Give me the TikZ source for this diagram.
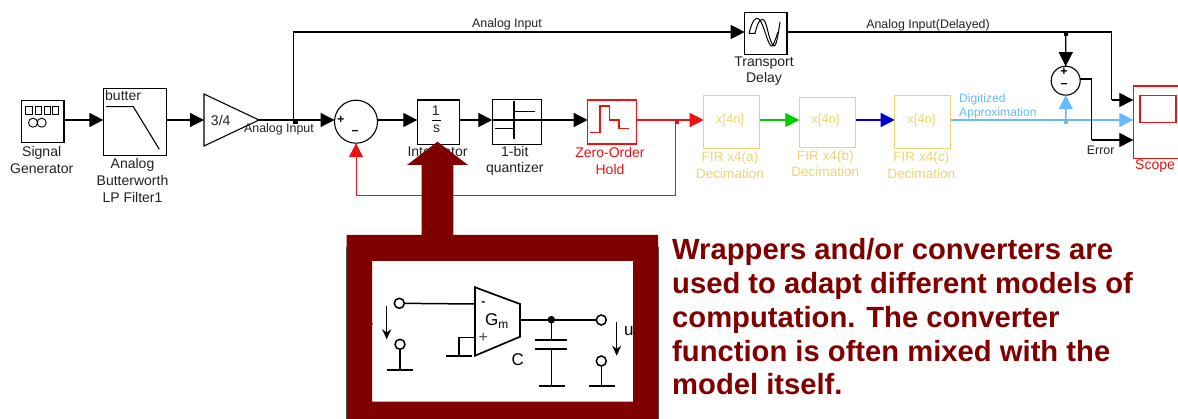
\documentclass[tikz,border=0pt]{standalone}
\usepackage{fontspec}
\setmainfont{Liberation Sans}
\usetikzlibrary{arrows.meta,shapes.geometric}
\definecolor{cred}{HTML}{EE1111}
\definecolor{cyel}{HTML}{EDD574}
\definecolor{cgreen}{HTML}{00CC00}
\definecolor{cblue}{HTML}{0000CC}
\definecolor{clblue}{HTML}{66BBFF}
\definecolor{cdark}{HTML}{800000}
\definecolor{ctxt}{HTML}{222222}
\tikzset{
 x=1pt,y=-1pt,
 blk/.style={draw=#1,line width=1.1pt,fill=white,inner sep=0pt,outer sep=0pt,rectangle},
 blk/.default=black,
 lbl/.style={inner sep=0pt,align=center,text=#1,font=\fontsize{12.4}{16.6}\selectfont},
 lbl/.default=ctxt,
 blbl/.style={inner sep=0pt,align=center,text=#1,font=\fontsize{14}{16.6}\selectfont},
 blbl/.default=ctxt,
 wire/.style={draw=#1,line width=1.3pt,-{Triangle[length=14pt,width=14pt,fill=#1]}},
 wire/.default=black,
 plain/.style={draw=#1,line width=1.3pt},
 plain/.default=black,
 sumc/.style={draw,circle,line width=1.1pt,fill=white,inner sep=0pt,outer sep=0pt},
 ckt/.style={line width=1.5pt,draw=black},
 term/.style={draw=black,circle,line width=1.5pt,fill=white,inner sep=0pt,outer sep=0pt,minimum size=10pt},
 sgn/.style={inner sep=0pt,font=\bfseries\fontsize{12.5}{12}\selectfont},
}
\begin{document}
\begin{tikzpicture}
\useasboundingbox (0,0) rectangle (1178,419);
\fill[white] (0,0) rectangle (1178,419);
% blocks
\node[blk,minimum width=42.3pt,minimum height=42pt] (sg) at (42.8,121.7) {};
\foreach \a/\b in {25.7/32,35/41,44/50.7,52.7/58.7}
  \draw[line width=.9pt] (\a,106.7) rectangle (\b,114.3);
\draw[line width=.9pt] (33,122.7) circle (4.5) (41.7,122.7) circle (4.5);
\node[blk,minimum width=62.7pt,minimum height=66.6pt] (flt) at (134.7,122) {};
\node[inner sep=0pt,anchor=west,font=\fontsize{14}{14}\selectfont,text=ctxt] (butter) at (105,95.7) {butter};
\draw[line width=1.1pt] (106,106.7) -- (133.3,106.7) -- (159.3,149.3);
\node[draw,line width=1.1pt,isosceles triangle,isosceles triangle stretches,minimum width=52pt,minimum height=55pt,inner sep=0pt,outer sep=0pt,anchor=apex] (gain) at (259,120) {};
\node[inner sep=0pt,font=\fontsize{14}{14}\selectfont,text=ctxt] (gaintxt) at (220.7,120.5) {3/4};
\node[sumc,minimum size=43pt] (sum1) at (356,121.7) {};
\node[sgn] (p1) at (340.7,120) {+};
\node[sgn] (m1) at (355,133) {–};
\node[blk,minimum width=42pt,minimum height=44.3pt] (int) at (438.3,122.2) {};
\node[inner sep=0pt,font=\fontsize{14}{14}\selectfont,text=ctxt] (one) at (435.7,110.7) {1};
\draw[line width=.8pt] (431.7,120) -- (440.7,120);
\node[inner sep=0pt,font=\fontsize{14}{14}\selectfont,text=ctxt] (ess) at (436.7,129) {s};
\node[blk,minimum width=49pt,minimum height=45pt] (qnt) at (516.8,121.8) {};
\draw[line width=1.1pt] (514,100.7) -- (514,139.3) (493,120) -- (541,120) (514,111.7) -- (535,111.7) (495,128.3) -- (514,128.3);
\node[blk=cred,minimum width=49pt,minimum height=44pt] (zoh) at (612.2,122) {};
\draw[cred,line width=1.1pt] (590,132.3) -- (600,132.3) -- (600,106) -- (609.3,106) -- (609.3,120) -- (619,120) -- (619,128.3) -- (629,128.3);
\node[blk=cyel,minimum width=56pt,minimum height=52.6pt] (fa) at (731.7,122) {};
\node[blk=cyel,minimum width=56.4pt,minimum height=50pt] (fb) at (827.5,122.3) {};
\node[blk=cyel,minimum width=56pt,minimum height=52.6pt] (fc) at (922.7,122) {};
\node[lbl=cyel,font=\fontsize{13}{13}\selectfont] (xa) at (730,120.5) {x[4n]};
\node[lbl=cyel,font=\fontsize{13}{13}\selectfont] (xb) at (825.5,120.5) {x[4n]};
\node[lbl=cyel,font=\fontsize{13}{13}\selectfont] (xc) at (921.5,120.5) {x[4n]};
\node[blk,minimum width=42.3pt,minimum height=41.6pt] (dly) at (765.8,33.5) {};
\draw[line width=1pt] (749,33.5) -- (755,33.5) .. controls (758,20) and (762,16) .. (765,22) .. controls (768,28) and (769,42) .. (774,46) .. controls (776,47) and (778,36) .. (780,22);
\draw[line width=1pt] (749,33.5) .. controls (752,22) and (755,16) .. (759,19) .. controls (764,24) and (766,40) .. (771,46) .. controls (773,48) and (775,40) .. (778,32);
\node[blk=cred,minimum width=60pt,minimum height=72.3pt] (scope) at (1163.3,122.2) {};
\draw[cred,line width=1.1pt] (1140,95.7) rectangle (1176,122.7);
\node[sumc,minimum size=29pt] (sum2) at (1065.7,80.7) {};
\node[sgn] (p2) at (1064,72.3) {+};
\node[sgn] (m2) at (1064,86) {–};
% junctions
\coordinate (ja) at (293.3,120);
\coordinate (jr) at (675,120);
\coordinate (jd) at (1065.8,32);
\coordinate (jb) at (1065.8,120);
\fill (293,120) rectangle (297.7,124.5);
\fill[cred] (675,120) rectangle (679,124.5);
\fill (1063.7,32) rectangle (1068.3,36);
\fill[clblue] (1063.7,120) rectangle (1068.3,124.5);
% wires
\draw[wire] (sg.east |- 0,120) -- (flt.west |- 0,120);
\draw[wire] (flt.east |- 0,120) -- (gain.west |- 0,120);
\draw[wire] (gain.apex) -- (sum1.west |- gain.apex);
\draw[wire] (sum1.east |- 0,120) -- (int.west |- 0,120);
\draw[wire] (int.east |- 0,120) -- (qnt.west |- 0,120);
\draw[wire] (qnt.east |- 0,120) -- (zoh.west |- 0,120);
\draw[wire=cred] (zoh.east |- 0,120) -- (fa.west |- 0,120);
\draw[wire=cgreen] (fa.east |- 0,120) -- (fb.west |- 0,120);
\draw[wire=cblue] (fb.east |- 0,120) -- (fc.west |- 0,120);
\draw[wire=clblue,line width=1.6pt] (fc.east |- 0,120) -- (scope.west |- 0,120);
\draw[wire] (ja) |- (dly.west |- 0,32);
\draw[plain] (dly.east |- 0,32) -- (1111.7,32) -- (1111.7,100);
\draw[wire] (1111.7,100) -- (scope.west |- 0,100);
\draw[wire] (jd) -- (sum2.north);
\draw[wire=clblue,line width=1.6pt] (jb) -- (sum2.south);
\draw[plain] (sum2.east |- 0,79) -- (1091.7,79) -- (1091.7,140);
\draw[wire] (1091.7,140) -- (scope.west |- 0,140);
\draw[wire=cred,line width=1pt] (jr) -- (675,195.3) -| (sum1.south);
% labels
\node[lbl] (l1) at (507,24) {Analog Input};
\node[lbl] (l2) at (928,25) {Analog Input(Delayed)};
\node[lbl] (l3) at (279,129) {Analog Input};
\node[blbl] (l4) at (41.7,160) {Signal\\Generator};
\node[blbl] (l5) at (132.5,180.5) {Analog\\Butterworth\\LP Filter1};
\node[blbl] (l6) at (437.5,153) {Integrator};
\node[blbl] (l7) at (514.8,161) {1-bit\\quantizer};
\node[blbl=cred] (l8) at (610,161) {Zero-Order\\Hold};
\node[blbl=cyel,font=\fontsize{13.6}{16.6}\selectfont] (l9) at (730,165.3) {FIR x4(a)\\Decimation};
\node[blbl=cyel,font=\fontsize{13.6}{16.6}\selectfont] (l10) at (825.3,163.5) {FIR x4(b)\\Decimation};
\node[blbl=cyel,font=\fontsize{13.6}{16.6}\selectfont] (l11) at (921.3,165.3) {FIR x4(c)\\Decimation};
\node[blbl] (l12) at (764,71) {Transport\\Delay};
\node[lbl=clblue,align=left,anchor=west,font=\fontsize{12.1}{14}\selectfont] (l13) at (959,106.7) {Digitized\\Approximation};
\node[lbl] (l14) at (1100.7,150) {Error};
\node[blbl=cred] (l15) at (1155,166.5) {Scope};
% circuit
\node[inner sep=0pt,font=\fontsize{16}{16}\selectfont,anchor=east,text=black!70] (ee) at (373.6,325) {e};
\node[term] (in1) at (399.3,303.3) {};
\node[term] (in2) at (400,344.3) {};
\node[term] (out1) at (601.3,320) {};
\node[term] (out2) at (601.3,361) {};
\coordinate (ampin) at (475,304);
\coordinate (ampp) at (475,337.7);
\coordinate (ampo) at (520,320);
\draw[ckt,line width=1.7pt] (475,287.3) -- (520,304) -- (520,336.7) -- (475,355.7) -- cycle;
\draw[ckt] (in1) -- (ampin);
\draw[ckt] (ampp) -- (459,337.7) -- (459,356);
\draw[ckt] (446,356) -- (472.3,356);
\draw[ckt] (ampo) -- (551.3,320) -- (out1);
\fill (551.3,319.7) circle (3.8);
\draw[ckt] (551.3,320) -- (551.3,340) (535,340) -- (567.3,340) (535,349) -- (567.3,349) (551.3,349) -- (551.3,386) (539,386) -- (565,386);
\draw[ckt] (out2) -- (601.3,386) (589,386) -- (615,386);
\draw[ckt] (in2) -- (400,370) (386.7,370) -- (413.3,370);
\draw[ckt,-{Stealth[length=10pt,width=9pt]}] (386.7,305.7) -- (386.7,339.3);
\draw[ckt,-{Stealth[length=10pt,width=9pt]}] (616.7,321.7) -- (616.7,355.7);
\node[inner sep=0pt,font=\bfseries\fontsize{12}{12}\selectfont] (minus) at (483.3,303.5) {-};
\node[inner sep=0pt,font=\fontsize{16}{16}\selectfont,text=black!70] (plus) at (483.3,337.7) {+};
\node[inner sep=0pt,font=\fontsize{17}{17}\selectfont] (gm) at (497,321) {G\textsubscript{m}};
\node[inner sep=0pt,font=\fontsize{17}{17}\selectfont] (cc) at (517.7,360) {C};
\node[inner sep=0pt,font=\fontsize{17}{17}\selectfont,anchor=west] (uu) at (624,331) {u};
% big frame and arrow
\fill[cdark,even odd rule] (346.7,235) rectangle (658,419) (372,261) rectangle (633,401.7);
\draw[black!70,line width=.7pt] (346.6,247) -- (346.6,419) (658.2,247) -- (658.2,419);
\fill[cdark] (421.7,236) -- (421.7,165) -- (407,165) -- (437.5,141.7) -- (468,165) -- (453.3,165) -- (453.3,236) -- cycle;
% text
\node[inner sep=0pt,anchor=north west,align=left,text=cdark,font=\bfseries\fontsize{29.2}{33.7}\selectfont] (note) at (672,238.6) {\frenchspacing Wrappers and/or converters are\\used to adapt different models of\\computation. The converter\\function is often mixed with the\\model itself.};
\end{tikzpicture}
\end{document}
